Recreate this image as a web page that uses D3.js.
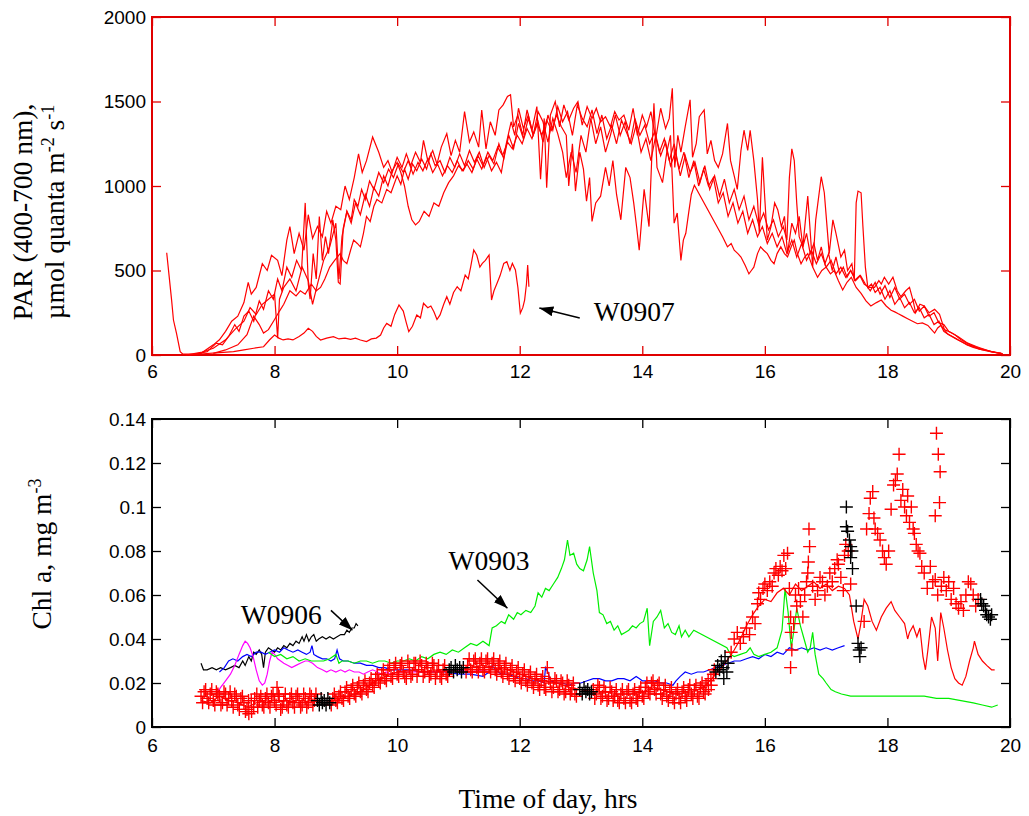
<!DOCTYPE html>
<html>
<head>
<meta charset="utf-8">
<script src="https://cdn.jsdelivr.net/npm/d3@7"></script>
<style>
  body { margin: 0; background: #fff; }
  svg { display: block; }
  .tick text { font-family: "Liberation Sans", Arial, sans-serif; font-size: 19px; fill: #000; }
  .title { font-family: "Liberation Serif", "Times New Roman", serif; font-size: 27.5px; fill: #000; }
</style>
</head>
<body>
<svg width="1029" height="816"></svg>
<script>
// ---- data: PAR (top panel), [hour, umol quanta m-2 s-1]
const parW0907 = [[6.24,605],[6.32,325],[6.35,207],[6.40,128],[6.46,20],[6.50,6],[6.78,6],[7.05,12],[7.33,20],[7.50,30],[7.66,40],[7.82,49],[7.92,90],[8.00,118],[8.07,100],[8.14,89],[8.22,95],[8.30,89],[8.40,110],[8.48,130],[8.55,158],[8.62,140],[8.68,110],[8.75,89],[8.85,100],[8.96,108],[9.05,95],[9.15,100],[9.24,93],[9.32,100],[9.40,89],[9.50,79],[9.58,95],[9.66,100],[9.73,118],[9.78,160],[9.83,187],[9.90,170],[9.96,240],[10.03,296],[10.10,260],[10.15,190],[10.19,138],[10.25,170],[10.32,237],[10.38,220],[10.43,306],[10.50,280],[10.55,290],[10.60,256],[10.65,210],[10.70,237],[10.76,300],[10.81,345],[10.86,300],[10.92,370],[10.98,404],[11.04,380],[11.11,473],[11.16,450],[11.20,522],[11.25,621],[11.30,590],[11.35,520],[11.39,542],[11.44,560],[11.50,592],[11.54,325],[11.58,380],[11.63,424],[11.68,470],[11.74,542],[11.79,552],[11.84,500],[11.88,542],[11.93,503],[11.97,400],[12.01,247],[12.05,280],[12.08,325],[12.11,420],[12.13,532],[12.15,404]];
const parA = [[6.60,0],[6.80,10],[7.00,60],[7.10,90],[7.20,140],[7.30,200],[7.40,230],[7.50,310],[7.57,430],[7.62,360],[7.70,400],[7.80,540],[7.88,500],[7.95,590],[8.05,560],[8.12,470],[8.20,680],[8.25,760],[8.32,600],[8.40,720],[8.48,620],[8.55,830],[8.62,690],[8.70,760],[8.78,700],[8.85,850],[8.92,780],[9.00,880],[9.08,860],[9.15,1000],[9.22,920],[9.30,1050],[9.37,1190],[9.43,1080],[9.50,1150],[9.60,1290],[9.70,1200],[9.78,1110],[9.85,1150],[9.92,1080],[10.00,1170],[10.08,1110],[10.15,1190],[10.22,1120],[10.30,1200],[10.38,1140],[10.43,1270],[10.50,1150],[10.58,1210],[10.65,1130],[10.72,1230],[10.81,1310],[10.88,1180],[10.95,1270],[11.02,1200],[11.10,1440],[11.18,1260],[11.25,1320],[11.33,1230],[11.38,1450],[11.45,1220],[11.52,1380],[11.60,1300],[11.66,1450],[11.73,1480],[11.80,1530],[11.85,1540],[11.90,1350],[11.97,1420],[12.05,1300],[12.12,1450],[12.20,1330],[12.28,1470],[12.34,1040],[12.40,1400],[12.44,990],[12.50,1420],[12.58,1500],[12.65,1350],[12.72,1480],[12.80,1390],[12.88,1460],[12.95,1500],[13.02,1360],[13.10,1470],[13.18,1400],[13.25,1460],[13.32,1380],[13.40,1410],[13.48,1350],[13.55,1440],[13.62,1390],[13.70,1420],[13.78,1330],[13.85,1460],[13.92,1300],[14.00,1420],[14.07,1350],[14.14,1440],[14.22,1280],[14.30,1460],[14.38,1340],[14.44,1400],[14.49,1578],[14.53,1110],[14.58,1300],[14.63,1200],[14.70,1350],[14.78,1510],[14.82,1170],[14.88,1250],[14.93,1410],[15.01,1450],[15.06,1190],[15.12,1270],[15.18,1150],[15.24,1110],[15.31,1190],[15.39,1370],[15.44,1150],[15.50,1060],[15.55,980],[15.61,1210],[15.66,1330],[15.72,1210],[15.76,1330],[15.82,1150],[15.88,920],[15.91,720],[15.96,1170],[16.00,920],[16.04,680],[16.10,760],[16.16,900],[16.21,860],[16.27,760],[16.32,820],[16.37,600],[16.44,780],[16.50,720],[16.56,820],[16.62,640],[16.70,940],[16.78,520],[16.83,800],[16.92,1055],[16.97,960],[17.05,600],[17.11,800],[17.16,720],[17.24,580],[17.30,620],[17.35,500],[17.42,540],[17.46,440],[17.55,470],[17.62,420],[17.70,400],[17.79,400],[17.86,440],[17.90,420],[17.95,460],[18.02,420],[18.09,460],[18.16,380],[18.22,345],[18.30,380],[18.36,400],[18.42,320],[18.46,250],[18.53,300],[18.60,290],[18.68,250],[18.77,270],[18.85,240],[18.93,150],[19.05,130],[19.15,110],[19.31,70],[19.45,50],[19.53,40],[19.69,20],[19.85,12]];
const parB = [[6.55,0],[6.80,15],[7.00,40],[7.20,90],[7.35,150],[7.50,200],[7.60,280],[7.70,240],[7.80,300],[7.90,330],[8.00,360],[8.05,100],[8.08,330],[8.15,400],[8.25,450],[8.35,380],[8.45,520],[8.55,440],[8.62,300],[8.70,420],[8.80,560],[8.90,640],[9.00,780],[9.05,450],[9.10,700],[9.18,850],[9.25,780],[9.32,900],[9.40,830],[9.48,950],[9.55,880],[9.62,990],[9.70,940],[9.78,1060],[9.85,1000],[9.92,1090],[10.00,1140],[10.06,1080],[10.12,1000],[10.18,880],[10.24,800],[10.30,770],[10.36,790],[10.44,850],[10.52,820],[10.60,900],[10.68,880],[10.76,960],[10.84,1020],[10.92,1060],[11.00,1120],[11.08,1090],[11.16,1150],[11.24,1100],[11.32,1180],[11.40,1120],[11.48,1200],[11.56,1150],[11.64,1230],[11.72,1180],[11.80,1260],[11.88,1220],[11.96,1300],[12.04,1250],[12.12,1340],[12.20,1280],[12.28,1370],[12.36,1300],[12.44,1390],[12.52,1330],[12.60,1420],[12.68,1350],[12.76,1300],[12.80,1000],[12.86,1250],[12.91,970],[12.98,1200],[13.04,1100],[13.09,910],[13.14,1050],[13.18,790],[13.24,900],[13.32,940],[13.40,1110],[13.46,1000],[13.52,1150],[13.58,950],[13.65,800],[13.73,1110],[13.80,1050],[13.86,900],[13.91,750],[13.95,620],[14.03,980],[14.11,760],[14.19,1490],[14.24,1110],[14.33,1020],[14.40,1200],[14.46,1300],[14.52,780],[14.57,840],[14.63,560],[14.67,680],[14.71,720],[14.76,850],[14.80,950],[14.85,1005],[15.31,700],[15.39,640],[15.45,660],[15.50,620],[15.56,600],[15.61,580],[15.68,530],[15.74,480],[15.78,500],[15.82,520],[15.88,600],[15.93,640],[15.98,620],[16.04,600],[16.10,560],[16.15,540],[16.20,600],[16.26,640],[16.32,600],[16.37,580],[16.43,640],[16.48,680],[16.53,600],[16.59,540],[16.65,580],[16.70,600],[16.78,520],[16.86,460],[16.93,500],[17.00,520],[17.07,480],[17.13,500],[17.20,440],[17.27,385],[17.34,430],[17.41,460],[17.49,400],[17.57,365],[17.65,320],[17.73,290],[17.82,310],[17.90,325],[17.98,290],[18.06,265],[18.12,255],[18.17,245],[18.25,230],[18.33,215],[18.41,200],[18.49,185],[18.57,190],[18.66,175],[18.72,150],[18.77,130],[18.82,160],[18.87,175],[18.93,150],[18.98,125],[19.06,110],[19.15,90],[19.23,75],[19.31,60],[19.40,50],[19.50,35],[19.60,28],[19.70,20],[19.80,12],[19.88,8]];
const parC = [[7.00,10],[7.20,30],[7.40,60],[7.55,120],[7.66,230],[7.75,180],[7.82,130],[7.90,150],[8.00,210],[8.08,260],[8.15,300],[8.25,380],[8.35,350],[8.42,380],[8.50,360],[8.60,420],[8.68,380],[8.75,400],[8.82,450],[8.90,520],[8.98,560],[9.07,600],[9.12,560],[9.18,540],[9.24,620],[9.29,680],[9.35,660],[9.40,640],[9.45,720],[9.50,820],[9.56,790],[9.62,880],[9.67,920],[9.75,900],[9.83,980],[9.90,960],[9.94,1000],[10.00,1060],[10.06,1010],[10.12,1100],[10.18,1040],[10.25,1130],[10.32,1090],[10.40,1160],[10.48,1100],[10.55,1190],[10.62,1120],[10.70,1150],[10.78,1080],[10.86,1170],[10.94,1110],[11.02,1190],[11.10,1120],[11.18,1210],[11.26,1140],[11.34,1200],[11.42,1110],[11.50,1180],[11.58,1130],[11.66,1250],[11.74,1160],[11.82,1300],[11.90,1220],[11.98,1370],[12.06,1280],[12.14,1400],[12.22,1300],[12.30,1380],[12.38,1260],[12.46,1420],[12.54,1330],[12.62,1470],[12.70,1380],[12.78,1440],[12.86,1300],[12.94,1480],[13.02,1400],[13.10,1350],[13.18,1450],[13.26,1310],[13.34,1420],[13.42,1280],[13.50,1360],[13.58,1250],[13.66,1390],[13.74,1320],[13.82,1250],[13.90,1360],[13.98,1200],[14.06,1280],[14.14,1150],[14.22,1300],[14.30,1180],[14.38,1260],[14.46,1120],[14.54,1200],[14.62,1060],[14.70,1180],[14.78,1080],[14.86,1140],[14.94,1020],[15.02,1120],[15.10,980],[15.18,1060],[15.26,940],[15.34,1040],[15.42,900],[15.50,980],[15.58,860],[15.66,940],[15.74,800],[15.82,880],[15.90,770],[15.98,840],[16.06,740],[16.14,800],[16.22,700],[16.30,760],[16.36,680],[16.40,1050],[16.44,1220],[16.48,1150],[16.52,900],[16.56,700],[16.62,640],[16.68,720],[16.74,600],[16.80,660],[16.86,560],[16.92,640],[16.98,540],[17.04,600],[17.10,500],[17.16,580],[17.22,480],[17.28,520],[17.34,460],[17.40,500],[17.46,460],[17.49,900],[17.52,970],[17.57,960],[17.60,760],[17.64,520],[17.68,400],[17.74,420],[17.80,370],[17.88,400],[17.96,330],[18.04,380],[18.12,300],[18.20,340],[18.28,280],[18.36,310],[18.44,250],[18.52,280],[18.60,220],[18.68,240],[18.76,180],[18.84,200],[18.92,140],[19.00,120],[19.10,100],[19.20,80],[19.30,60],[19.40,45],[19.55,30],[19.70,18],[19.85,10]];
const parD = [[6.70,5],[6.90,20],[7.05,70],[7.15,60],[7.25,110],[7.35,180],[7.42,140],[7.50,230],[7.58,260],[7.66,200],[7.75,320],[7.82,270],[7.90,380],[7.98,330],[8.05,450],[8.12,380],[8.20,520],[8.28,460],[8.36,560],[8.44,500],[8.50,900],[8.55,420],[8.58,330],[8.63,600],[8.68,450],[8.73,820],[8.78,560],[8.83,700],[8.88,600],[8.95,800],[9.00,680],[9.04,430],[9.07,420],[9.12,750],[9.18,850],[9.25,800],[9.30,920],[9.36,880],[9.42,980],[9.48,920],[9.55,1030],[9.62,980],[9.70,1080],[9.78,1020],[9.86,1100],[9.94,1050],[10.02,1130],[10.10,1080],[10.18,1150],[10.26,1070],[10.34,1140],[10.42,1090],[10.50,1160],[10.58,1080],[10.66,1130],[10.74,1060],[10.82,1120],[10.90,1080],[10.98,1150],[11.06,1090],[11.14,1130],[11.22,1080],[11.30,1160],[11.38,1100],[11.46,1170],[11.54,1090],[11.62,1140],[11.70,1080],[11.78,1250],[11.86,1380],[11.92,1300],[11.98,1460],[12.06,1340],[12.14,1420],[12.22,1300],[12.30,1440],[12.38,1380],[12.46,1260],[12.54,1400],[12.62,1310],[12.70,1200],[12.76,1050],[12.84,1200],[12.92,1080],[13.00,1300],[13.08,1200],[13.16,1400],[13.24,1250],[13.32,1350],[13.40,1200],[13.48,1300],[13.56,1420],[13.64,1300],[13.72,1380],[13.80,1250],[13.88,1400],[13.96,1300],[14.04,1360],[14.12,1250],[14.20,1320],[14.28,1200],[14.36,1280],[14.44,1150],[14.52,1250],[14.60,1100],[14.68,1200],[14.76,1050],[14.84,1150],[14.92,1000],[15.00,1100],[15.08,1000],[15.16,1050],[15.24,900],[15.32,960],[15.40,820],[15.48,900],[15.56,780],[15.64,850],[15.72,720],[15.80,800],[15.88,700],[15.96,760],[16.04,660],[16.12,720],[16.20,640],[16.28,700],[16.36,600],[16.44,680],[16.52,580],[16.60,660],[16.68,560],[16.76,620],[16.84,540],[16.92,600],[17.00,520],[17.08,560],[17.16,480],[17.24,520],[17.32,460],[17.40,500],[17.48,440],[17.56,470],[17.64,420],[17.72,380],[17.80,430],[17.88,360],[17.96,410],[18.04,340],[18.12,400],[18.20,330],[18.28,360],[18.36,300],[18.44,330],[18.52,260],[18.60,290],[18.68,230],[18.76,250],[18.84,190],[18.92,180],[19.00,140],[19.10,120],[19.20,90],[19.35,60],[19.50,40],[19.65,25],[19.80,12],[19.88,8]];

// ---- data: Chl a (bottom panel), [hour, mg m-3]
const chlW0906 = [[6.80,.029],[6.84,.026],[6.90,.026],[6.98,.027],[7.05,.026],[7.12,.027],[7.20,.026],[7.28,.027],[7.35,.028],[7.42,.027],[7.48,.030],[7.52,.028],[7.58,.032],[7.62,.030],[7.66,.034],[7.70,.033],[7.75,.035],[7.79,.033],[7.82,.027],[7.85,.034],[7.90,.036],[7.95,.035],[8.00,.034],[8.05,.036],[8.10,.035],[8.15,.037],[8.20,.036],[8.25,.038],[8.30,.037],[8.35,.039],[8.40,.038],[8.45,.041],[8.48,.039],[8.52,.042],[8.56,.039],[8.60,.041],[8.64,.042],[8.68,.039],[8.72,.040],[8.78,.041],[8.84,.040],[8.90,.041],[8.96,.040],[9.02,.041],[9.08,.042],[9.14,.042],[9.18,.044],[9.22,.043],[9.26,.045],[9.30,.045],[9.33,.047],[9.36,.046]];
const chlBlue = [[7.10,.025],[7.18,.027],[7.25,.030],[7.32,.031],[7.40,.030],[7.48,.032],[7.55,.033],[7.62,.032],[7.70,.034],[7.78,.034],[7.85,.033],[7.92,.034],[8.00,.035],[8.08,.034],[8.15,.036],[8.22,.035],[8.30,.034],[8.38,.035],[8.45,.034],[8.52,.033],[8.58,.034],[8.61,.037],[8.64,.033],[8.70,.032],[8.78,.031],[8.85,.031],[8.92,.030],[8.98,.031],[9.02,.035],[9.06,.031],[9.12,.030],[9.20,.030],[9.30,.029],[9.40,.029],[9.50,.028],[9.60,.028],[9.70,.027],[9.80,.027],[9.90,.026],[10.00,.026],[10.20,.026],[10.40,.025],[10.60,.025],[10.80,.025],[11.00,.024],[11.20,.024],[11.40,.023],[11.50,.025],[11.55,.028],[11.60,.026],[11.70,.024],[11.80,.024],[11.90,.023],[12.00,.022],[12.10,.022],[12.20,.021],[12.30,.021],[12.40,.020],[12.42,.027],[12.46,.025],[12.50,.021],[12.60,.020],[12.70,.020],[12.80,.019],[12.90,.020],[13.00,.020],[13.10,.021],[13.20,.022],[13.30,.022],[13.40,.021],[13.50,.021],[13.60,.022],[13.70,.022],[13.80,.021],[13.90,.023],[13.95,.022],[14.00,.021],[14.10,.021],[14.20,.021],[14.30,.020],[14.40,.020],[14.50,.019],[14.55,.021],[14.62,.023],[14.70,.025],[14.80,.024],[14.90,.025],[15.00,.025],[15.10,.026],[15.20,.027],[15.30,.028],[15.40,.029],[15.50,.030],[15.60,.030],[15.70,.031],[15.80,.032],[15.90,.031],[16.00,.033],[16.10,.032],[16.20,.034],[16.30,.033],[16.40,.036],[16.50,.035],[16.60,.036],[16.70,.035],[16.80,.036],[16.90,.035],[17.00,.036],[17.10,.035],[17.20,.036],[17.30,.037]];
const chlMagenta = [[7.05,.015],[7.12,.018],[7.20,.021],[7.28,.024],[7.35,.028],[7.42,.033],[7.48,.037],[7.52,.039],[7.56,.038],[7.60,.036],[7.65,.032],[7.70,.026],[7.75,.021],[7.80,.019],[7.84,.020],[7.88,.024],[7.92,.030],[7.96,.034],[8.00,.033],[8.05,.031],[8.10,.030],[8.15,.029],[8.22,.028],[8.28,.027],[8.35,.028],[8.42,.029],[8.50,.030],[8.55,.030],[8.62,.029],[8.70,.027],[8.78,.026],[8.85,.025],[8.92,.026],[9.00,.025],[9.08,.026],[9.15,.025],[9.22,.026],[9.30,.025],[9.38,.025],[9.45,.024],[9.52,.025],[9.60,.026],[9.68,.025],[9.75,.024],[9.82,.025],[9.90,.024],[10.00,.025],[10.50,.025],[11.00,.026],[11.20,.025],[11.40,.026],[11.50,.025]];
const chlW0903 = [[7.90,.034],[8.00,.032],[8.10,.033],[8.20,.031],[8.30,.032],[8.40,.030],[8.50,.031],[8.60,.030],[8.70,.030],[8.80,.030],[8.90,.031],[9.00,.033],[9.05,.029],[9.10,.030],[9.20,.030],[9.30,.029],[9.40,.030],[9.50,.030],[9.60,.029],[9.70,.030],[9.80,.030],[9.90,.029],[10.00,.030],[10.10,.030],[10.20,.031],[10.30,.030],[10.40,.032],[10.50,.031],[10.60,.033],[10.70,.034],[10.80,.033],[10.90,.035],[11.00,.034],[11.10,.036],[11.20,.038],[11.30,.037],[11.40,.039],[11.50,.037],[11.55,.045],[11.62,.046],[11.70,.048],[11.76,.047],[11.82,.051],[11.90,.049],[11.96,.052],[12.02,.051],[12.10,.053],[12.18,.052],[12.25,.055],[12.30,.061],[12.36,.059],[12.42,.063],[12.48,.062],[12.55,.065],[12.62,.068],[12.68,.072],[12.73,.076],[12.78,.085],[12.82,.078],[12.88,.079],[12.93,.074],[12.98,.072],[13.04,.071],[13.10,.076],[13.14,.082],[13.20,.070],[13.26,.062],[13.30,.052],[13.36,.051],[13.42,.047],[13.48,.048],[13.54,.044],[13.60,.046],[13.66,.042],[13.72,.043],[13.78,.044],[13.84,.046],[13.90,.045],[13.96,.047],[14.02,.048],[14.08,.054],[14.12,.037],[14.18,.048],[14.24,.050],[14.30,.053],[14.36,.045],[14.42,.047],[14.48,.043],[14.54,.042],[14.60,.046],[14.64,.041],[14.70,.044],[14.76,.041],[14.84,.044],[15.38,.036],[15.44,.033],[15.50,.032],[15.60,.033],[15.70,.034],[15.76,.036],[15.82,.033],[15.90,.032],[16.00,.033],[16.10,.034],[16.20,.036],[16.28,.044],[16.33,.063],[16.38,.052],[16.43,.036],[16.48,.045],[16.52,.054],[16.58,.046],[16.64,.040],[16.70,.034],[16.74,.036],[16.78,.043],[16.82,.033],[16.88,.024],[16.95,.022],[17.00,.020],[17.08,.017],[17.15,.016],[17.25,.015],[17.40,.014],[17.60,.014],[17.80,.014],[18.00,.014],[18.20,.014],[18.40,.014],[18.60,.014],[18.80,.013],[19.00,.013],[19.20,.012],[19.40,.011],[19.55,.010],[19.70,.009],[19.80,.010]];
const chlRedLine = [[6.80,.012],[6.95,.011],[7.10,.014],[7.25,.012],[7.40,.011],[7.55,.009],[7.70,.011],[7.85,.012],[8.00,.011],[8.20,.012],[8.40,.011],[8.60,.012],[8.80,.011],[9.00,.012],[9.20,.014],[9.40,.016],[9.60,.020],[9.80,.023],[10.00,.025],[10.20,.026],[10.40,.025],[10.60,.026],[10.80,.025],[11.00,.026],[11.20,.027],[11.40,.028],[11.60,.027],[11.80,.026],[12.00,.024],[12.20,.022],[12.40,.021],[12.60,.020],[12.80,.018],[13.00,.017],[13.20,.016],[13.40,.016],[13.60,.015],[13.80,.015],[14.00,.016],[14.20,.018],[14.40,.016],[14.60,.015],[14.80,.016],[15.00,.018],[15.10,.021],[15.20,.024],[15.30,.027],[15.40,.031],[15.50,.035],[15.60,.040],[15.70,.046],[15.80,.051],[15.90,.055],[16.00,.058],[16.10,.057],[16.20,.061],[16.30,.063],[16.40,.060],[16.50,.065],[16.60,.062],[16.70,.064],[16.80,.066],[16.90,.063],[17.00,.065],[17.10,.062],[17.20,.064],[17.30,.063],[17.38,.060],[17.45,.048],[17.52,.040],[17.56,.046],[17.62,.058],[17.68,.055],[17.75,.048],[17.82,.044],[17.90,.050],[17.98,.054],[18.06,.057],[18.12,.053],[18.20,.050],[18.28,.047],[18.33,.040],[18.36,.043],[18.42,.046],[18.48,.041],[18.53,.045],[18.58,.032],[18.62,.026],[18.66,.035],[18.72,.050],[18.78,.045],[18.82,.030],[18.87,.052],[18.92,.045],[18.98,.035],[19.04,.027],[19.10,.022],[19.16,.020],[19.22,.019],[19.28,.023],[19.34,.030],[19.40,.036],[19.42,.039],[19.48,.033],[19.55,.030],[19.62,.028],[19.70,.026],[19.75,.026]];
const chlRedCross = [[6.80,.014],[6.85,.016],[6.90,.013],[6.95,.015],[7.00,.012],[7.05,.016],[7.10,.014],[7.15,.011],[7.20,.015],[7.25,.013],[7.30,.012],[7.35,.015],[7.40,.010],[7.45,.013],[7.50,.011],[7.55,.008],[7.58,.006],[7.62,.012],[7.66,.009],[7.71,.015],[7.75,.012],[7.80,.010],[7.85,.013],[7.90,.011],[7.95,.014],[8.00,.012],[8.04,.018],[8.06,.015],[8.10,.008],[8.15,.012],[8.20,.010],[8.25,.013],[8.30,.011],[8.35,.014],[8.40,.012],[8.45,.010],[8.50,.013],[8.55,.011],[8.60,.014],[8.65,.012],[8.95,.013],[9.00,.012],[9.05,.014],[9.10,.013],[9.15,.016],[9.20,.014],[9.25,.017],[9.30,.015],[9.35,.018],[9.40,.016],[9.45,.019],[9.50,.017],[9.55,.020],[9.60,.019],[9.65,.022],[9.70,.021],[9.75,.024],[9.80,.022],[9.85,.026],[9.90,.023],[9.95,.027],[10.00,.024],[10.05,.028],[10.10,.025],[10.15,.022],[10.20,.027],[10.25,.024],[10.30,.029],[10.35,.026],[10.40,.028],[10.45,.025],[10.50,.027],[10.55,.024],[10.60,.028],[10.65,.025],[10.70,.023],[10.75,.026],[10.80,.024],[11.15,.028],[11.20,.026],[11.25,.030],[11.30,.027],[11.35,.029],[11.40,.026],[11.45,.030],[11.50,.027],[11.55,.029],[11.60,.026],[11.65,.028],[11.70,.025],[11.75,.027],[11.80,.024],[11.85,.026],[11.90,.023],[11.95,.025],[12.00,.022],[12.05,.024],[12.10,.021],[12.15,.023],[12.20,.020],[12.25,.022],[12.30,.019],[12.35,.021],[12.40,.018],[12.45,.027],[12.50,.020],[12.55,.018],[12.60,.021],[12.65,.017],[12.70,.020],[12.75,.016],[12.80,.019],[12.85,.017],[12.90,.015],[13.20,.017],[13.25,.015],[13.30,.018],[13.35,.014],[13.40,.016],[13.45,.013],[13.50,.016],[13.55,.014],[13.60,.012],[13.65,.015],[13.70,.013],[13.75,.016],[13.80,.012],[13.85,.015],[13.90,.013],[13.95,.016],[14.00,.014],[14.05,.018],[14.10,.016],[14.15,.020],[14.20,.017],[14.25,.019],[14.30,.015],[14.35,.017],[14.40,.014],[14.45,.016],[14.50,.013],[14.55,.015],[14.60,.013],[14.65,.016],[14.70,.014],[14.75,.017],[14.80,.015],[14.85,.017],[14.90,.014],[14.95,.018],[15.00,.016],[15.04,.019],[15.08,.017],[15.12,.022],[15.16,.024],[15.45,.034],[15.50,.040],[15.55,.043],[15.60,.038],[15.65,.041],[15.70,.045],[15.75,.042],[15.80,.050],[15.84,.047],[15.88,.056],[15.90,.061],[15.93,.058],[15.97,.063],[16.00,.065],[16.04,.062],[16.08,.066],[16.12,.064],[16.15,.070],[16.18,.072],[16.22,.069],[16.25,.073],[16.28,.071],[16.31,.078],[16.34,.072],[16.37,.079],[16.40,.063],[16.42,.050],[16.43,.043],[16.44,.035],[16.42,.027],[16.47,.047],[16.50,.060],[16.52,.055],[16.55,.063],[16.58,.057],[16.62,.050],[16.65,.060],[16.68,.066],[16.70,.070],[16.72,.090],[16.73,.082],[16.71,.075],[16.78,.064],[16.82,.058],[16.86,.062],[16.90,.068],[16.94,.066],[16.98,.060],[17.02,.064],[17.06,.070],[17.10,.066],[17.14,.072],[17.18,.076],[17.20,.074],[17.24,.068],[17.28,.062],[17.30,.078],[17.32,.083],[17.36,.080],[17.40,.065],[17.62,.048],[17.66,.090],[17.70,.097],[17.72,.104],[17.76,.107],[17.78,.095],[17.80,.090],[17.84,.088],[17.88,.085],[17.92,.080],[17.95,.077],[17.98,.074],[18.02,.080],[18.06,.099],[18.10,.110],[18.13,.112],[18.16,.115],[18.19,.124],[18.22,.103],[18.25,.108],[18.28,.100],[18.31,.096],[18.33,.105],[18.36,.093],[18.39,.100],[18.42,.090],[18.44,.088],[18.47,.083],[18.50,.080],[18.53,.079],[18.56,.073],[18.60,.070],[18.65,.063],[18.70,.073],[18.74,.066],[18.78,.096],[18.80,.1335],[18.83,.124],[18.86,.116],[18.85,.102],[18.78,.067],[18.82,.060],[18.88,.064],[18.92,.068],[18.96,.062],[19.00,.066],[19.04,.058],[19.08,.063],[19.12,.056],[19.16,.054],[19.20,.057],[19.24,.053],[19.28,.060],[19.32,.066],[19.36,.065],[19.40,.060],[19.44,.055],[19.48,.058]];
// second, interleaved set of red crosses in the dense morning-afternoon band
const chlRedCross2 = [[6.825,.011],[6.875,.017],[6.925,.011],[6.975,.017],[7.025,.010],[7.075,.015],[7.125,.010],[7.175,.016],[7.225,.010],[7.275,.016],[7.325,.009],[7.375,.014],[7.425,.008],[7.475,.014],[7.525,.007],[7.575,.012],[7.625,.007],[7.675,.013],[7.725,.009],[7.775,.014],[7.825,.009],[7.875,.015],[7.925,.009],[7.975,.015],[8.025,.010],[8.075,.014],[8.125,.009],[8.175,.015],[8.225,.009],[8.275,.015],[8.325,.009],[8.375,.015],[8.425,.009],[8.475,.015],[8.525,.009],[8.575,.015],[8.625,.010],[8.675,.015],[8.925,.010],[8.975,.015],[9.025,.011],[9.075,.016],[9.125,.012],[9.175,.018],[9.225,.013],[9.275,.019],[9.325,.014],[9.375,.020],[9.425,.015],[9.475,.021],[9.525,.016],[9.575,.022],[9.625,.018],[9.675,.024],[9.725,.020],[9.775,.026],[9.825,.021],[9.875,.028],[9.925,.022],[9.975,.029],[10.025,.023],[10.075,.029],[10.125,.023],[10.175,.030],[10.225,.023],[10.275,.029],[10.325,.023],[10.375,.030],[10.425,.023],[10.475,.029],[10.525,.023],[10.575,.029],[10.625,.022],[10.675,.028],[10.725,.022],[10.775,.028],[10.825,.023],[11.125,.025],[11.175,.031],[11.225,.025],[11.275,.031],[11.325,.025],[11.375,.031],[11.425,.025],[11.475,.031],[11.525,.025],[11.575,.031],[11.625,.024],[11.675,.030],[11.725,.023],[11.775,.029],[11.825,.022],[11.875,.028],[11.925,.021],[11.975,.027],[12.025,.020],[12.075,.026],[12.125,.019],[12.175,.025],[12.225,.018],[12.275,.024],[12.325,.017],[12.375,.023],[12.425,.017],[12.475,.022],[12.525,.016],[12.575,.022],[12.625,.016],[12.675,.021],[12.725,.015],[12.775,.021],[12.825,.015],[12.875,.020],[12.925,.014],[13.225,.013],[13.275,.019],[13.325,.013],[13.375,.018],[13.425,.012],[13.475,.018],[13.525,.012],[13.575,.017],[13.625,.011],[13.675,.017],[13.725,.011],[13.775,.017],[13.825,.011],[13.875,.017],[13.925,.012],[13.975,.018],[14.025,.013],[14.075,.020],[14.125,.015],[14.175,.021],[14.225,.015],[14.275,.020],[14.325,.013],[14.375,.019],[14.425,.012],[14.475,.018],[14.525,.011],[14.575,.017],[14.625,.011],[14.675,.018],[14.725,.012],[14.775,.019],[14.825,.013],[14.875,.019],[14.925,.013],[14.975,.020],[15.025,.015],[15.075,.021],[15.125,.019],[15.175,.026]];
const chlBlackCross = [[8.70,.012],[8.73,.010],[8.76,.013],[8.78,.011],[8.81,.012],[8.84,.010],[8.87,.013],[8.90,.011],[10.85,.026],[10.88,.027],[10.92,.025],[10.95,.028],[10.98,.026],[11.02,.027],[11.05,.025],[11.08,.027],[12.98,.017],[13.02,.015],[13.05,.018],[13.08,.016],[13.11,.017],[13.14,.015],[13.17,.016],[15.20,.025],[15.23,.028],[15.26,.026],[15.29,.030],[15.32,.027],[15.35,.032],[15.38,.025],[15.40,.029],[15.33,.022],[17.33,.100],[17.33,.091],[17.35,.089],[17.38,.085],[17.40,.082],[17.42,.080],[17.40,.077],[17.43,.072],[17.49,.055],[17.52,.038],[17.54,.035],[17.55,.032],[17.57,.036],[19.52,.058],[19.54,.056],[19.57,.055],[19.60,.053],[19.62,.051],[19.65,.050],[19.68,.049],[19.70,.051]];

const hourTicks = [6, 8, 10, 12, 14, 16, 18, 20];
const parTicks = [0, 500, 1000, 1500, 2000];
const chlTicks = [0, 0.02, 0.04, 0.06, 0.08, 0.1, 0.12, 0.14];

// annotations: [label, textHour, textValue, tailHour, tailValue, tipHour, tipValue]
const parNotes = [["W0907", 13.21, 201, 12.98, 219, 12.32, 278]];
const chlNotes = [["W0906", 7.45, 0.0468, 8.92, 0.053, 9.27, 0.044], ["W0903", 10.84, 0.0714, 11.31, 0.0668, 11.80, 0.054]];

let svg = d3.select("svg");

svg.append("defs").append("marker")
    .attr("id", "head")
    .attr("viewBox", "0 0 14 10")
    .attr("refX", 14).attr("refY", 5)
    .attr("markerWidth", 14).attr("markerHeight", 10)
    .attr("markerUnits", "userSpaceOnUse")
    .attr("orient", "auto")
    .append("path").attr("d", "M0,0L14,5L0,10z").attr("fill", "#000");

let left = 152, right = 1010;
let x = d3.scaleLinear().domain([6, 20]).range([left, right]);

function panel(top, bottom, yDomain, yTicks, color, xPad) {
    let y = d3.scaleLinear().domain(yDomain).range([bottom, top]);
    let g = svg.append("g");
    let tk = 9;

    g.append("g").attr("transform", "translate(0," + bottom + ")")
        .call(d3.axisBottom(x).tickValues(hourTicks).tickSizeInner(-tk).tickSizeOuter(0).tickPadding(xPad));
    g.append("g").attr("transform", "translate(0," + top + ")")
        .call(d3.axisTop(x).tickValues(hourTicks).tickSizeInner(-tk).tickSizeOuter(0).tickFormat(""));
    g.append("g").attr("transform", "translate(" + left + ",0)")
        .call(d3.axisLeft(y).tickValues(yTicks).tickSizeInner(-tk).tickSizeOuter(0).tickPadding(6)
            .tickFormat(d3.format("~g")));
    g.append("g").attr("transform", "translate(" + right + ",0)")
        .call(d3.axisRight(y).tickValues(yTicks).tickSizeInner(-tk).tickSizeOuter(0).tickFormat(""));

    g.selectAll(".tick line").attr("stroke", color).attr("stroke-width", 1.3);
    g.selectAll(".domain").remove();
    g.selectAll(".tick text").attr("fill", "#000");

    g.append("rect")
        .attr("x", left).attr("y", top)
        .attr("width", right - left).attr("height", bottom - top)
        .attr("fill", "none").attr("stroke", color).attr("stroke-width", 2);
    return y;
}

// ---- top panel: PAR
let yPar = panel(17, 355, [0, 2000], parTicks, "#e00000", 10);
let parLine = d3.line().x(d => x(d[0])).y(d => yPar(d[1]));

svg.append("g").selectAll("path")
    .data([parD, parC, parB, parA, parW0907])
    .enter()
    .append("path")
    .attr("d", parLine)
    .attr("fill", "none")
    .attr("stroke", "#ff0000")
    .attr("stroke-width", 1.2);

// ---- bottom panel: Chl a
let yChl = panel(419, 727, [0, 0.14], chlTicks, "#000", 11.5);
let chlLine = d3.line().x(d => x(d[0])).y(d => yChl(d[1]));

let lines = [
    { data: chlW0906, color: "#000" },
    { data: chlBlue, color: "#0000ff" },
    { data: chlMagenta, color: "#ff00ff" },
    { data: chlW0903, color: "#00ee00" },
    { data: chlRedLine, color: "#ff0000" }
];
svg.append("g").selectAll("path")
    .data(lines)
    .enter()
    .append("path")
    .attr("d", d => chlLine(d.data))
    .attr("fill", "none")
    .attr("stroke", d => d.color)
    .attr("stroke-width", 1.2);

let cross = "M-6.5,0H6.5M0,-6.5V6.5";
function crosses(data, color) {
    svg.append("g").selectAll("path")
        .data(data)
        .enter()
        .append("path")
        .attr("transform", d => "translate(" + x(d[0]) + "," + yChl(d[1]) + ")")
        .attr("d", cross)
        .attr("stroke", color)
        .attr("stroke-width", 1.4);
}
crosses(chlRedCross2, "#ff0000");
crosses(chlRedCross, "#ff0000");
crosses(chlBlackCross, "#000");

// ---- annotations
function notes(list, y) {
    list.forEach(n => {
        svg.append("text").attr("class", "title")
            .attr("x", x(n[1])).attr("y", y(n[2]))
            .text(n[0]);
        svg.append("line")
            .attr("x1", x(n[3])).attr("y1", y(n[4]))
            .attr("x2", x(n[5])).attr("y2", y(n[6]))
            .attr("stroke", "#000").attr("stroke-width", 1.5)
            .attr("marker-end", "url(#head)");
    });
}
notes(parNotes, yPar);
notes(chlNotes, yChl);

// ---- axis titles
let t1 = svg.append("text").attr("class", "title")
    .attr("transform", "translate(32,212) rotate(-90)")
    .attr("text-anchor", "middle")
    .text("PAR (400-700 nm),");
let t2 = svg.append("text").attr("class", "title")
    .attr("transform", "translate(64,212) rotate(-90)")
    .attr("text-anchor", "middle");
t2.append("tspan").text("\u00b5mol quanta m");
t2.append("tspan").attr("dy", -10).style("font-size", "18px").text("-2");
t2.append("tspan").attr("dy", 10).text(" s");
t2.append("tspan").attr("dy", -10).style("font-size", "18px").text("-1");

let t3 = svg.append("text").attr("class", "title")
    .attr("transform", "translate(51,554) rotate(-90)")
    .attr("text-anchor", "middle");
t3.append("tspan").text("Chl a,  mg m");
t3.append("tspan").attr("dy", -10).style("font-size", "18px").text("-3");

svg.append("text").attr("class", "title")
    .attr("x", 548).attr("y", 808)
    .attr("text-anchor", "middle")
    .text("Time of day, hrs");
</script>
</body>
</html>
